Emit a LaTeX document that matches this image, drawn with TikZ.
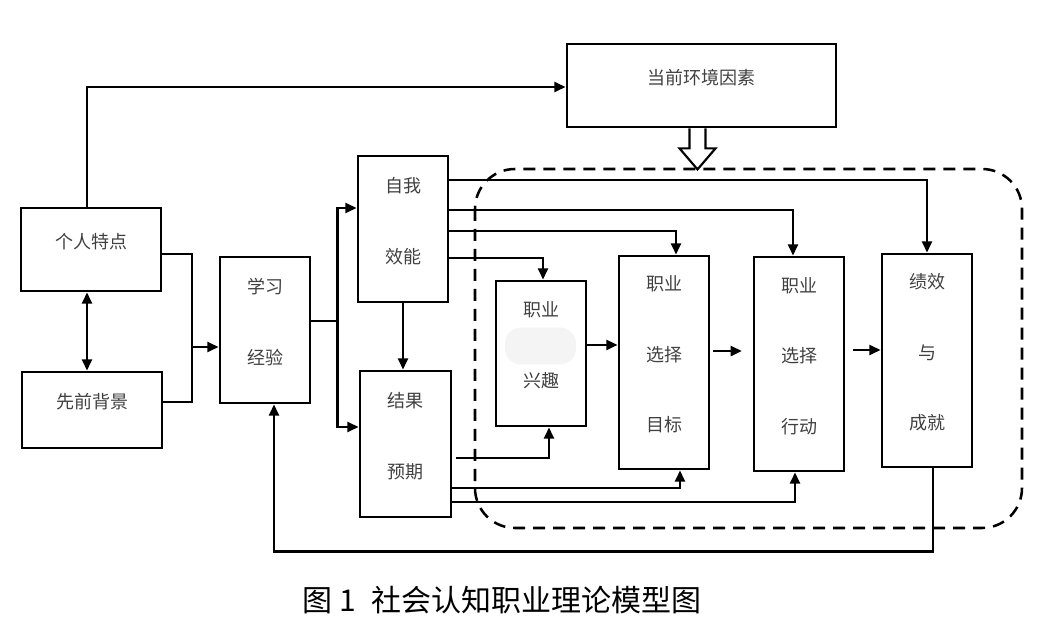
\documentclass[tikz,border=0pt]{standalone}
\usepackage{fontspec}
\setmainfont{Noto Sans CJK SC}
\usetikzlibrary{positioning, arrows.meta, calc}

\tikzset{
  box/.style={draw, line width=2.1pt, inner sep=0pt},
  txt/.style={font=\fontsize{13.5}{53}\selectfont, align=center, text=black!75, yshift=6pt},
  conn/.style={line width=1.9pt},
  frame/.style={line width=1.9pt, dash pattern=on 9pt off 6pt, rounded corners=30pt},
}

\begin{document}
\begin{tikzpicture}[x=0.75pt, y=-0.75pt, >={Triangle[length=8.5pt,width=7.5pt]}]
\useasboundingbox (0,0) rectangle (1039,634);

% boxes
\node[box, minimum width=105pt, minimum height=62.25pt, label={[txt]center:个人特点}] (geren) at (91,249.5) {};
\node[box, minimum width=105pt, minimum height=57pt, label={[txt]center:先前背景}] (xianqian) at (92,410) {};
\node[box, minimum width=67.5pt, minimum height=109.5pt, label={[txt]center:学习\\经验}] (xuexi) at (265,330) {};
\node[box, minimum width=67.5pt, minimum height=109.5pt, label={[txt]center:自我\\效能}] (ziwo) at (403,229) {};
\node[box, minimum width=68.25pt, minimum height=109.5pt, label={[txt]center:结果\\预期}] (jieguo) at (405.5,444) {};
\node[box, minimum width=201.75pt, minimum height=62.25pt, label={[txt]center:当前环境因素}] (huanjing) at (701.5,85.5) {};
\node[box, minimum width=67.5pt, minimum height=108.75pt, label={[txt]center:职业\\兴趣}] (xingqu) at (541,353.5) {};
\node[box, minimum width=67.5pt, minimum height=159.75pt, label={[txt]center:职业\\选择\\目标}] (mubiao) at (664,362.5) {};
\node[box, minimum width=67.5pt, minimum height=160.5pt, label={[txt]center:职业\\选择\\行动}] (xingdong) at (799,364) {};
\node[box, minimum width=67.5pt, minimum height=159.75pt, label={[txt]center:绩效\\与\\成就}] (jixiao) at (927,360.5) {};

% smudge in xingqu
\fill[gray!9, rounded corners=12pt] ($(xingqu.center)+(-36,-26)$) rectangle ($(xingqu.center)+(35,11)$);

% dashed frame and open arrow
\draw[frame] (475,169) rectangle (1022,528);
\coordinate (oa) at ($(huanjing.south)+(-4,0)$);
\draw[line width=1.6pt, fill=white] ($(oa)+(-8,0)$) -- ++(0,20) -- ++(-10,0) -- ($(oa)+(0,41)$)
  -- ($(oa)+(18,20)$) -- ++(-10,0) -- ($(oa)+(8,0)$);

% left part
\draw[conn, ->] ($(geren.north)+(-4,0)$) |- ($(huanjing.west)+(0,1.5)$);
\draw[conn, <->] ($(geren.south)+(-4,0)$) -- ($(xianqian.north)+(-5,0)$);
\coordinate (hub) at (192,347);
\draw[conn] ($(geren.east)+(0,4.5)$) -| (hub);
\draw[conn] ($(xianqian.east)+(0,-8)$) -| (hub);
\draw[conn, ->] (hub) -- (hub -| xuexi.west);
\coordinate (split) at ($(xuexi.east)+(26,-9)$);
\draw[conn] ($(xuexi.east)+(0,-9)$) -- (split);
\draw[conn, ->] (split) |- ($(ziwo.west)+(0,-21)$);
\draw[conn, ->] (split) |- ($(jieguo.west)+(0,-17)$);
\draw[conn, ->] (ziwo.south) -- (ziwo.south |- jieguo.north);

% from ziwo
\draw[conn, ->] ($(ziwo.east)+(0,-49)$) -| (jixiao.north);
\draw[conn, ->] ($(ziwo.east)+(0,-19)$) -| ($(xingdong.north)+(-6,0)$);
\draw[conn, ->] ($(ziwo.east)+(0,2)$) -| ($(mubiao.north)+(12,0)$);
\draw[conn, ->] ($(ziwo.east)+(0,29)$) -| ($(xingqu.north)+(2,0)$);

% from jieguo
\draw[conn, ->] ($(jieguo.east)+(4,14)$) -| ($(xingqu.south)+(8,0)$);
\draw[conn, ->] ($(jieguo.east)+(0,44)$) -| ($(mubiao.south)+(16,0)$);
\draw[conn, ->] ($(jieguo.east)+(0,58)$) -| ($(xingdong.south)+(-4,0)$);

% chain
\draw[conn, ->] ([yshift=6.4pt]xingqu.east) -- ([yshift=6.4pt]xingqu.east -| mubiao.west);
\draw[conn, ->, shorten <=2pt, shorten >=8pt] ([yshift=8.6pt]mubiao.east) -- ([yshift=8.6pt]mubiao.east -| xingdong.west);
\draw[conn, ->, shorten <=6pt] ([yshift=10.5pt]xingdong.east) -- ([yshift=10.5pt]xingdong.east -| jixiao.west);

% feedback
\draw[conn, ->] ($(jixiao.south)+(6,0)$) -- ++(0,83) -| ($(xuexi.south)+(9,0)$);

\node[font=\fontsize{22.5}{27}\selectfont] (caption) at (502,600) {图 1\hspace{0.5em}社会认知职业理论模型图};
\end{tikzpicture}
\end{document}
